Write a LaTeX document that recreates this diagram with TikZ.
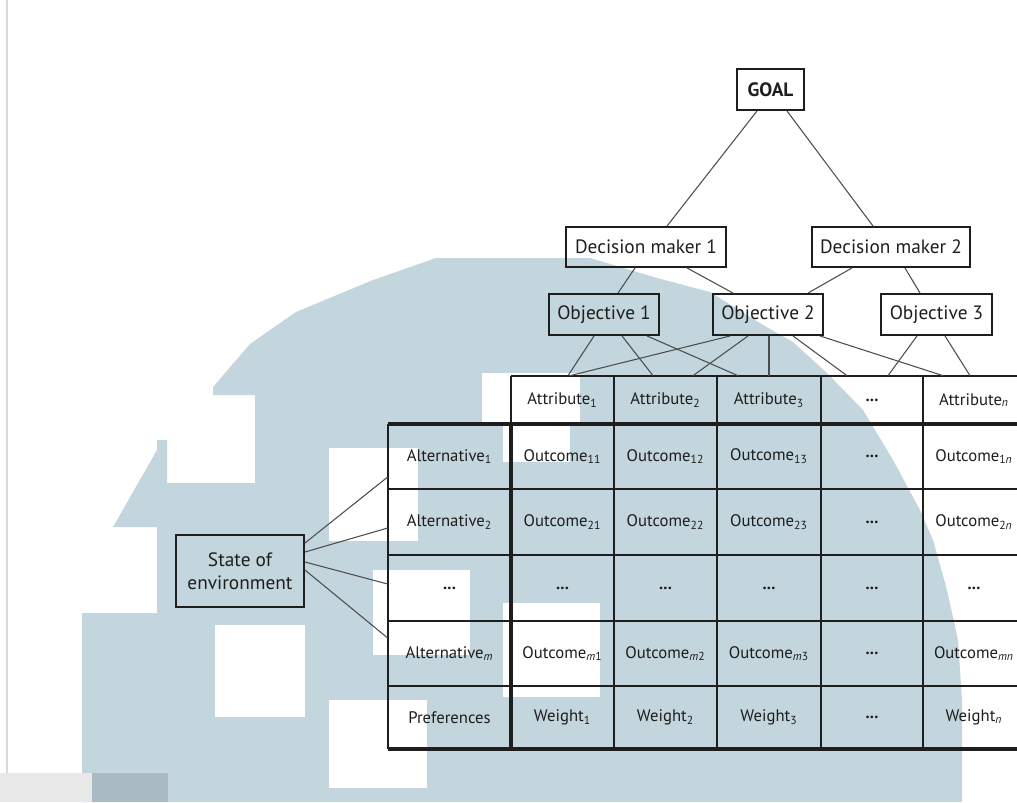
\documentclass[tikz,border=0pt]{standalone}
\usepackage{fontspec}
\setmainfont{PT Sans}
\usepackage{tikz}
\usetikzlibrary{calc}

\definecolor{wmark}{RGB}{195,213,221}
\definecolor{wmarkdark}{RGB}{170,186,194}
\definecolor{ink}{RGB}{30,30,30}
\newcommand{\ix}[1]{\textsubscript{#1}}

\tikzset{
  box/.style={draw=ink, line width=1.1pt, inner sep=0pt, text=ink, font=\fontsize{11}{13}\selectfont},
  cell/.style={inner sep=0pt, minimum width=2.06cm, minimum height=1.3cm, text=ink, font=\fontsize{9.5}{11}\selectfont},
  link/.style={draw=black!70, line width=0.6pt},
  gridline/.style={draw=ink, line width=1pt},
  heavyline/.style={draw=ink, line width=2pt}
}

\begin{document}
\begin{tikzpicture}[x=0.02cm, y=-0.02cm]

\useasboundingbox (0,0) rectangle (1017,802);
\clip (0,0) rectangle (1017,802);

% watermark behind the diagram
\fill[wmark] (436,258) -- (590,258) -- (657,278) -- (710,292) -- (763,325) -- (793,342) -- (827,373) -- (863,410) -- (893,460) -- (920,510) -- (933,540) -- (947,590) -- (958,640) -- (962,700) -- (962,802) -- (82,802) -- (82,613) -- (157,613) -- (157,527) -- (113,527) -- (157,450) -- (157,440) -- (167,440) -- (167,483) -- (255,483) -- (255,395) -- (213,395) -- (213,387) -- (250,344) -- (296,312) -- (373,280) -- cycle;
\fill[white] (329,448) rectangle (418,541);
\fill[white] (215,625) rectangle (305,717);
\fill[white] (329,700) rectangle (427,788);
\fill[white] (373,570) rectangle (470,655);
\fill[white] (503,603) rectangle (600,697);
\fill[white] (482,373) rectangle (580,424);
\fill[white] (503,424) rectangle (570,462);
\fill[black!9] (0,773) rectangle (92,802);
\fill[wmarkdark] (92,773) rectangle (168,802);
\draw[black!15, line width=1pt] (7,0) -- (7,773);

% hierarchy
\node (goal) at (770.5, 89.5) [box, minimum width=1.34cm, minimum height=0.82cm] {\bfseries GOAL};
\node (dm1) at (646, 247) [box, minimum width=3.2cm, minimum height=0.8cm] {Decision maker 1};
\node (dm2) at (891, 247) [box, minimum width=3.16cm, minimum height=0.8cm] {Decision maker 2};
\node (obj1) at (604, 314.5) [box, minimum width=2.2cm, minimum height=0.82cm] {Objective 1};
\node (obj2) at (768, 314.5) [box, minimum width=2.2cm, minimum height=0.82cm] {Objective 2};
\node (obj3) at (936.5, 314.5) [box, minimum width=2.22cm, minimum height=0.82cm] {Objective 3};
\node (state) at (240, 571) [box, minimum width=2.56cm, minimum height=1.44cm, align=center] {State of\\environment};

% table cells
\node (a1) at (562.5, 400) [cell, minimum height=0.96cm] {Attribute\ix{1}};
\node (a2) at (665.5, 400) [cell, minimum height=0.96cm] {Attribute\ix{2}};
\node (a3) at (769, 400) [cell, minimum height=0.96cm] {Attribute\ix{3}};
\node (adots) at (872, 400) [cell, minimum height=0.96cm] {\textbf{...}};
\node (an) at (974, 400) [cell, minimum height=0.96cm] {Attribute\ix{\textit{n}}};

\node (alt1) at (449.5, 456.5) [cell, minimum width=2.46cm] {Alternative\ix{1}};
\node (out11) at (562.5, 456.5) [cell] {Outcome\ix{11}};
\node (out12) at (665.5, 456.5) [cell] {Outcome\ix{12}};
\node (out13) at (769, 456.5) [cell] {Outcome\ix{13}};
\node (out1d) at (872, 456.5) [cell] {\textbf{...}};
\node (out1n) at (974, 456.5) [cell] {Outcome\ix{1\textit{n}}};

\node (alt2) at (449.5, 522) [cell, minimum width=2.46cm] {Alternative\ix{2}};
\node (out21) at (562.5, 522) [cell] {Outcome\ix{21}};
\node (out22) at (665.5, 522) [cell] {Outcome\ix{22}};
\node (out23) at (769, 522) [cell] {Outcome\ix{23}};
\node (out2d) at (872, 522) [cell] {\textbf{...}};
\node (out2n) at (974, 522) [cell] {Outcome\ix{2\textit{n}}};

\node (altd) at (449.5, 588) [cell, minimum width=2.46cm] {\textbf{...}};
\node (outd1) at (562.5, 588) [cell] {\textbf{...}};
\node (outd2) at (665.5, 588) [cell] {\textbf{...}};
\node (outd3) at (769, 588) [cell] {\textbf{...}};
\node (outdd) at (872, 588) [cell] {\textbf{...}};
\node (outdn) at (974, 588) [cell] {\textbf{...}};

\node (altm) at (449.5, 653.5) [cell, minimum width=2.46cm] {Alternative\ix{\textit{m}}};
\node (outm1) at (562.5, 653.5) [cell] {Outcome\ix{\textit{m}1}};
\node (outm2) at (665.5, 653.5) [cell] {Outcome\ix{\textit{m}2}};
\node (outm3) at (769, 653.5) [cell] {Outcome\ix{\textit{m}3}};
\node (outmd) at (872, 653.5) [cell] {\textbf{...}};
\node (outmn) at (974, 653.5) [cell] {Outcome\ix{\textit{mn}}};

\node (pref) at (449.5, 717.5) [cell, minimum width=2.46cm] {Preferences};
\node (wt1) at (562.5, 717.5) [cell] {Weight\ix{1}};
\node (wt2) at (665.5, 717.5) [cell] {Weight\ix{2}};
\node (wt3) at (769, 717.5) [cell] {Weight\ix{3}};
\node (wtd) at (872, 717.5) [cell] {\textbf{...}};
\node (wtn) at (974, 717.5) [cell] {Weight\ix{\textit{n}}};

% table rules
\draw[gridline] (511,376) -- (1030,376);
\draw[gridline] (511,376) -- (511,424);
\draw[gridline] (614,376) -- (614,749);
\draw[gridline] (717,376) -- (717,749);
\draw[gridline] (821,376) -- (821,749);
\draw[gridline] (923,376) -- (923,749);
\draw[gridline] (388,424) -- (388,749);
\draw[gridline] (388,489) -- (1030,489);
\draw[gridline] (388,555) -- (1030,555);
\draw[gridline] (388,621) -- (1030,621);
\draw[gridline] (388,686) -- (1030,686);
\draw[heavyline] (388,424) -- (1030,424);
\draw[heavyline] (388,749) -- (1030,749);
\draw[heavyline] (511,424) -- (511,749);

% connectors
\draw[link] ($(goal.south)+(-13.5,0)$) -- ($(dm1.north)+(21,0)$);
\draw[link] ($(goal.south)+(16.5,0)$) -- ($(dm2.north)+(-18,0)$);
\draw[link] ($(dm1.south)+(-11,0)$) -- ($(obj1.north)+(14,0)$);
\draw[link] ($(dm1.south)+(41,0)$) -- ($(obj2.north)+(-35,0)$);
\draw[link] ($(dm2.south)+(-39,0)$) -- ($(obj2.north)+(40,0)$);
\draw[link] ($(dm2.south)+(14,0)$) -- ($(obj3.north)+(-16.5,0)$);
\draw[link] ($(obj1.south)+(-10,0)$) -- ($(a1.north)+(5.5,0)$);
\draw[link] ($(obj1.south)+(18,0)$) -- ($(a2.north)+(-12.5,0)$);
\draw[link] ($(obj1.south)+(43,0)$) -- ($(a3.north)+(-31,0)$);
\draw[link] ($(obj2.south)+(-38,0)$) -- ($(a1.north)+(7.5,0)$);
\draw[link] ($(obj2.south)+(-20,0)$) -- ($(a2.north)+(27.5,0)$);
\draw[link] ($(obj2.south)+(1,0)$) -- ($(a3.north)+(0,0)$);
\draw[link] ($(obj2.south)+(25,0)$) -- ($(adots.north)+(-25,0)$);
\draw[link] ($(obj2.south)+(52,0)$) -- ($(an.north)+(-31,0)$);
\draw[link] ($(obj3.south)+(-19.5,0)$) -- ($(adots.north)+(16,0)$);
\draw[link] ($(obj3.south)+(8.5,0)$) -- ($(an.north)+(-4,0)$);
\draw[link] ($(state.east)+(0,-28)$) -- ($(alt1.west)+(0,20.5)$);
\draw[link] ($(state.east)+(0,-19)$) -- ($(alt2.west)+(0,6)$);
\draw[link] ($(state.east)+(0,-9)$) -- ($(altd.west)+(0,-4)$);
\draw[link] ($(state.east)+(0,-1)$) -- ($(altm.west)+(0,-15.5)$);

\end{tikzpicture}
\end{document}
